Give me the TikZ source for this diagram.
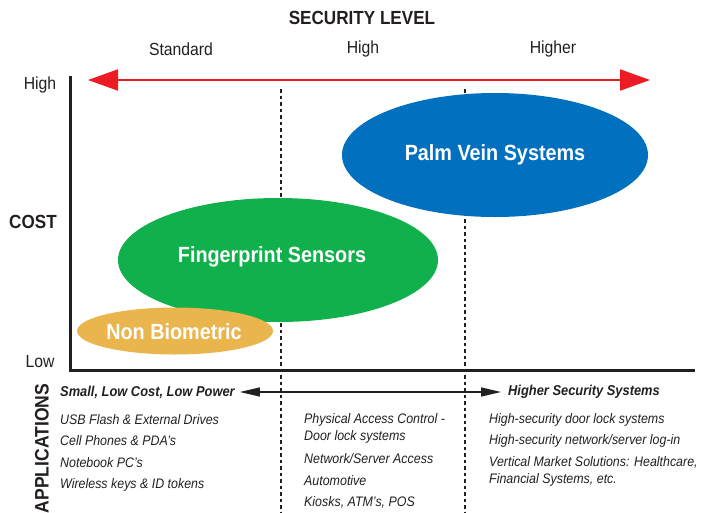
\documentclass[tikz,border=0pt]{standalone}
\usepackage{fontspec}
\setmainfont{Liberation Sans}[FakeStretch=0.9]
\usetikzlibrary{shapes.geometric,arrows.meta}
\definecolor{ink}{HTML}{231F20}
\definecolor{pvblue}{HTML}{0070BF}
\definecolor{fpgreen}{HTML}{10B04C}
\definecolor{nbgold}{HTML}{E9B54C}
\definecolor{arred}{HTML}{ED1C24}
\tikzset{
  blob/.style={ellipse, inner sep=0pt, text=white, font=\bfseries\fontsize{22}{24}\selectfont},
  blobtext/.style={text=white, font=\bfseries\fontsize{22}{24}\selectfont},
  lvl/.style={text=ink, font=\fontsize{17.5}{19}\selectfont},
  item/.style={text=ink, anchor=west, inner sep=0pt, font=\itshape\fontsize{13.8}{16.5}\selectfont, align=left},
  head/.style={text=ink, anchor=west, inner sep=0pt, font=\bfseries\itshape\fontsize{14.3}{16}\selectfont},
  divider/.style={ink, line width=1.6pt, dash pattern=on 3.5pt off 3pt},
}
\begin{document}
\begin{tikzpicture}[x=1pt,y=-1pt]
\useasboundingbox (0,0) rectangle (713,512);
% titles
\node[text=ink, font=\bfseries\fontsize{19}{21}\selectfont] (title) at (362,18) {SECURITY LEVEL};
\node[lvl] (std) at (181,49) {Standard};
\node[lvl] (hi) at (363,49) {High};
\node[lvl] (hier) at (553,49) {Higher};
% red arrow
\coordinate (ra) at (88,80);
\coordinate (rb) at (650,80);
\draw[arred, line width=2pt, {Triangle[length=30pt,width=21pt]}-{Triangle[length=30pt,width=21pt]}] (ra) -- (rb);
% dividers
\coordinate (d1t) at (281,89);
\coordinate (d1b) at (281,512);
\coordinate (d2t) at (465,89);
\coordinate (d2b) at (465,512);
\draw[divider] (d1t) -- (d1b);
\draw[divider] (d2t) -- (d2b);
% ellipses
\node[blob, fill=pvblue, minimum width=306pt, minimum height=124pt] (palm) at (495,155) {Palm Vein Systems};
\node[blob, fill=fpgreen, minimum width=320pt, minimum height=124pt] (finger) at (278,260) {};
\node[blobtext] (fingerl) at (272,257) {Fingerprint Sensors};
\node[blob, fill=nbgold, minimum width=196pt, minimum height=47pt] (nonbio) at (175,331) {};
\node[blobtext] (nonbiol) at (174,332) {Non Biometric};
% axes
\coordinate (ytop) at (70,76);
\coordinate (orig) at (70,370);
\coordinate (xend) at (695,370);
\draw[ink, line width=3pt] (ytop) -- (orig) -- (xend);
\node[lvl] (yhigh) at (40,85) {High};
\node[lvl] (ylow) at (40,362) {Low};
\node[text=ink, font=\bfseries\fontsize{19}{21}\selectfont] (cost) at (33,222) {COST};
% applications
\node[text=ink, rotate=90, inner sep=0pt, font=\bfseries\fontsize{19.5}{21}\selectfont] (apps) at (42,448.5) {APPLICATIONS};
\node[head] (small) at (60,392) {Small, Low Cost, Low Power};
\node[head] (highsec) at (508,392) {Higher Security Systems};
\draw[ink, line width=1.3pt, {Triangle[length=20pt,width=9pt]}-{Triangle[length=20pt,width=9pt]}] ([xshift=5pt]small.east) -- ([xshift=-7pt]highsec.west);
% lists
\node[item] (l1) at (60,420) {USB Flash \& External Drives};
\node[item] (l2) at (60,441) {Cell Phones \& PDA’s};
\node[item] (l3) at (60,463) {Notebook PC’s};
\node[item] (l4) at (60,485) {Wireless keys \& ID tokens};
\node[item] (m1) at (304,428.5) {Physical Access Control -\\Door lock systems};
\node[item] (m2) at (304,459) {Network/Server Access};
\node[item] (m3) at (304,481) {Automotive};
\node[item] (m4) at (304,502) {Kiosks, ATM’s, POS};
\node[item] (r1) at (489,420) {High-security door lock systems};
\node[item] (r2) at (489,441) {High-security network/server log-in};
\node[item] (r3) at (489,471.5) {Vertical Market Solutions: Healthcare,\\Financial Systems, etc.};
\end{tikzpicture}
\end{document}
